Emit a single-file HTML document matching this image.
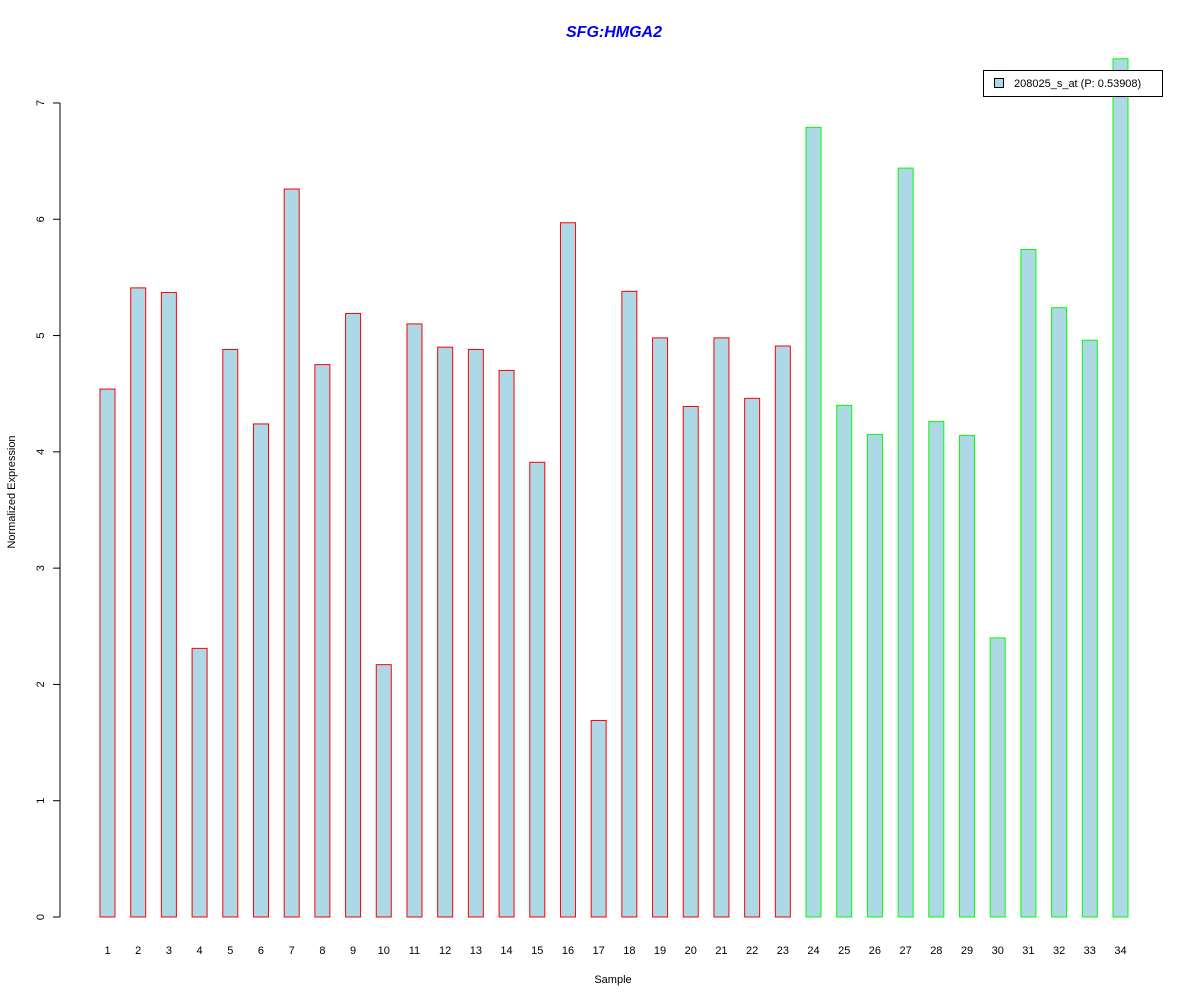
<!DOCTYPE html>
<html><head><meta charset="utf-8"><style>
body{margin:0;background:#fff}
svg{display:block;font-family:"Liberation Sans",Arial,sans-serif}
</style></head><body>
<svg id="chart" width="1200" height="1000">
<rect width="1200" height="1000" fill="#fff"/>
<text x="614" y="37" text-anchor="middle" font-size="16" font-weight="bold" font-style="italic" fill="#0000ee">SFG:HMGA2</text>
<text transform="translate(15,492) rotate(-90)" text-anchor="middle" font-size="11">Normalized Expression</text>
<text x="613" y="983" text-anchor="middle" font-size="11">Sample</text>
<g id="yaxis"></g>
<g id="bars"></g>
<g id="xlabels"></g>
<g>
<rect x="983.5" y="70.5" width="179" height="26" fill="#fff" stroke="#000"/>
<rect x="994.5" y="78.5" width="9" height="9" fill="#add8e6" stroke="#000"/>
<text x="1014" y="87" font-size="11">208025_s_at (P: 0.53908)</text>
</g>
</svg>
<script>
const categories=["1","2","3","4","5","6","7","8","9","10","11","12","13","14","15","16","17","18","19","20","21","22","23","24","25","26","27","28","29","30","31","32","33","34"];
const values=[4.54,5.41,5.37,2.31,4.88,4.24,6.26,4.75,5.19,2.17,5.10,4.90,4.88,4.70,3.91,5.97,1.69,5.38,4.98,4.39,4.98,4.46,4.91,6.79,4.40,4.15,6.44,4.26,4.14,2.40,5.74,5.24,4.96,7.38];
const groups=["a","a","a","a","a","a","a","a","a","a","a","a","a","a","a","a","a","a","a","a","a","a","a","b","b","b","b","b","b","b","b","b","b","b"];
const yTicks=[0,1,2,3,4,5,6,7];
const NS="http://www.w3.org/2000/svg";
const y=v=>917-v*116.29;
const x=i=>107.5+i*30.697;
const mk=(t,a)=>{const e=document.createElementNS(NS,t);for(const k in a)e.setAttribute(k,a[k]);return e;};
const ya=document.getElementById('yaxis');
ya.appendChild(mk('line',{x1:60,x2:60,y1:y(0),y2:y(7),stroke:'#000'}));
yTicks.forEach(t=>{
  const l=mk('line',{x1:53,x2:60,y1:y(t),y2:y(t),stroke:'#000'});
  
  
  ya.appendChild(l);
  const tx=mk('text',{transform:`translate(44,${y(t)}) rotate(-90)`,'text-anchor':'middle','font-size':11});
  
  
  tx.textContent=t;ya.appendChild(tx);
});
const bg=document.getElementById('bars'),xl=document.getElementById('xlabels');
values.forEach((v,i)=>{
  const r=mk('rect',{x:x(i)-7.5,y:y(v),width:15,height:y(0)-y(v),fill:'#add8e6',stroke:groups[i]==='a'?'#ff0000':'#00ff00'});
  
  
  bg.appendChild(r);
  const t=mk('text',{x:x(i),y:954,'text-anchor':'middle','font-size':11});
  
  
  t.textContent=categories[i];xl.appendChild(t);
});
</script>
</body></html>
